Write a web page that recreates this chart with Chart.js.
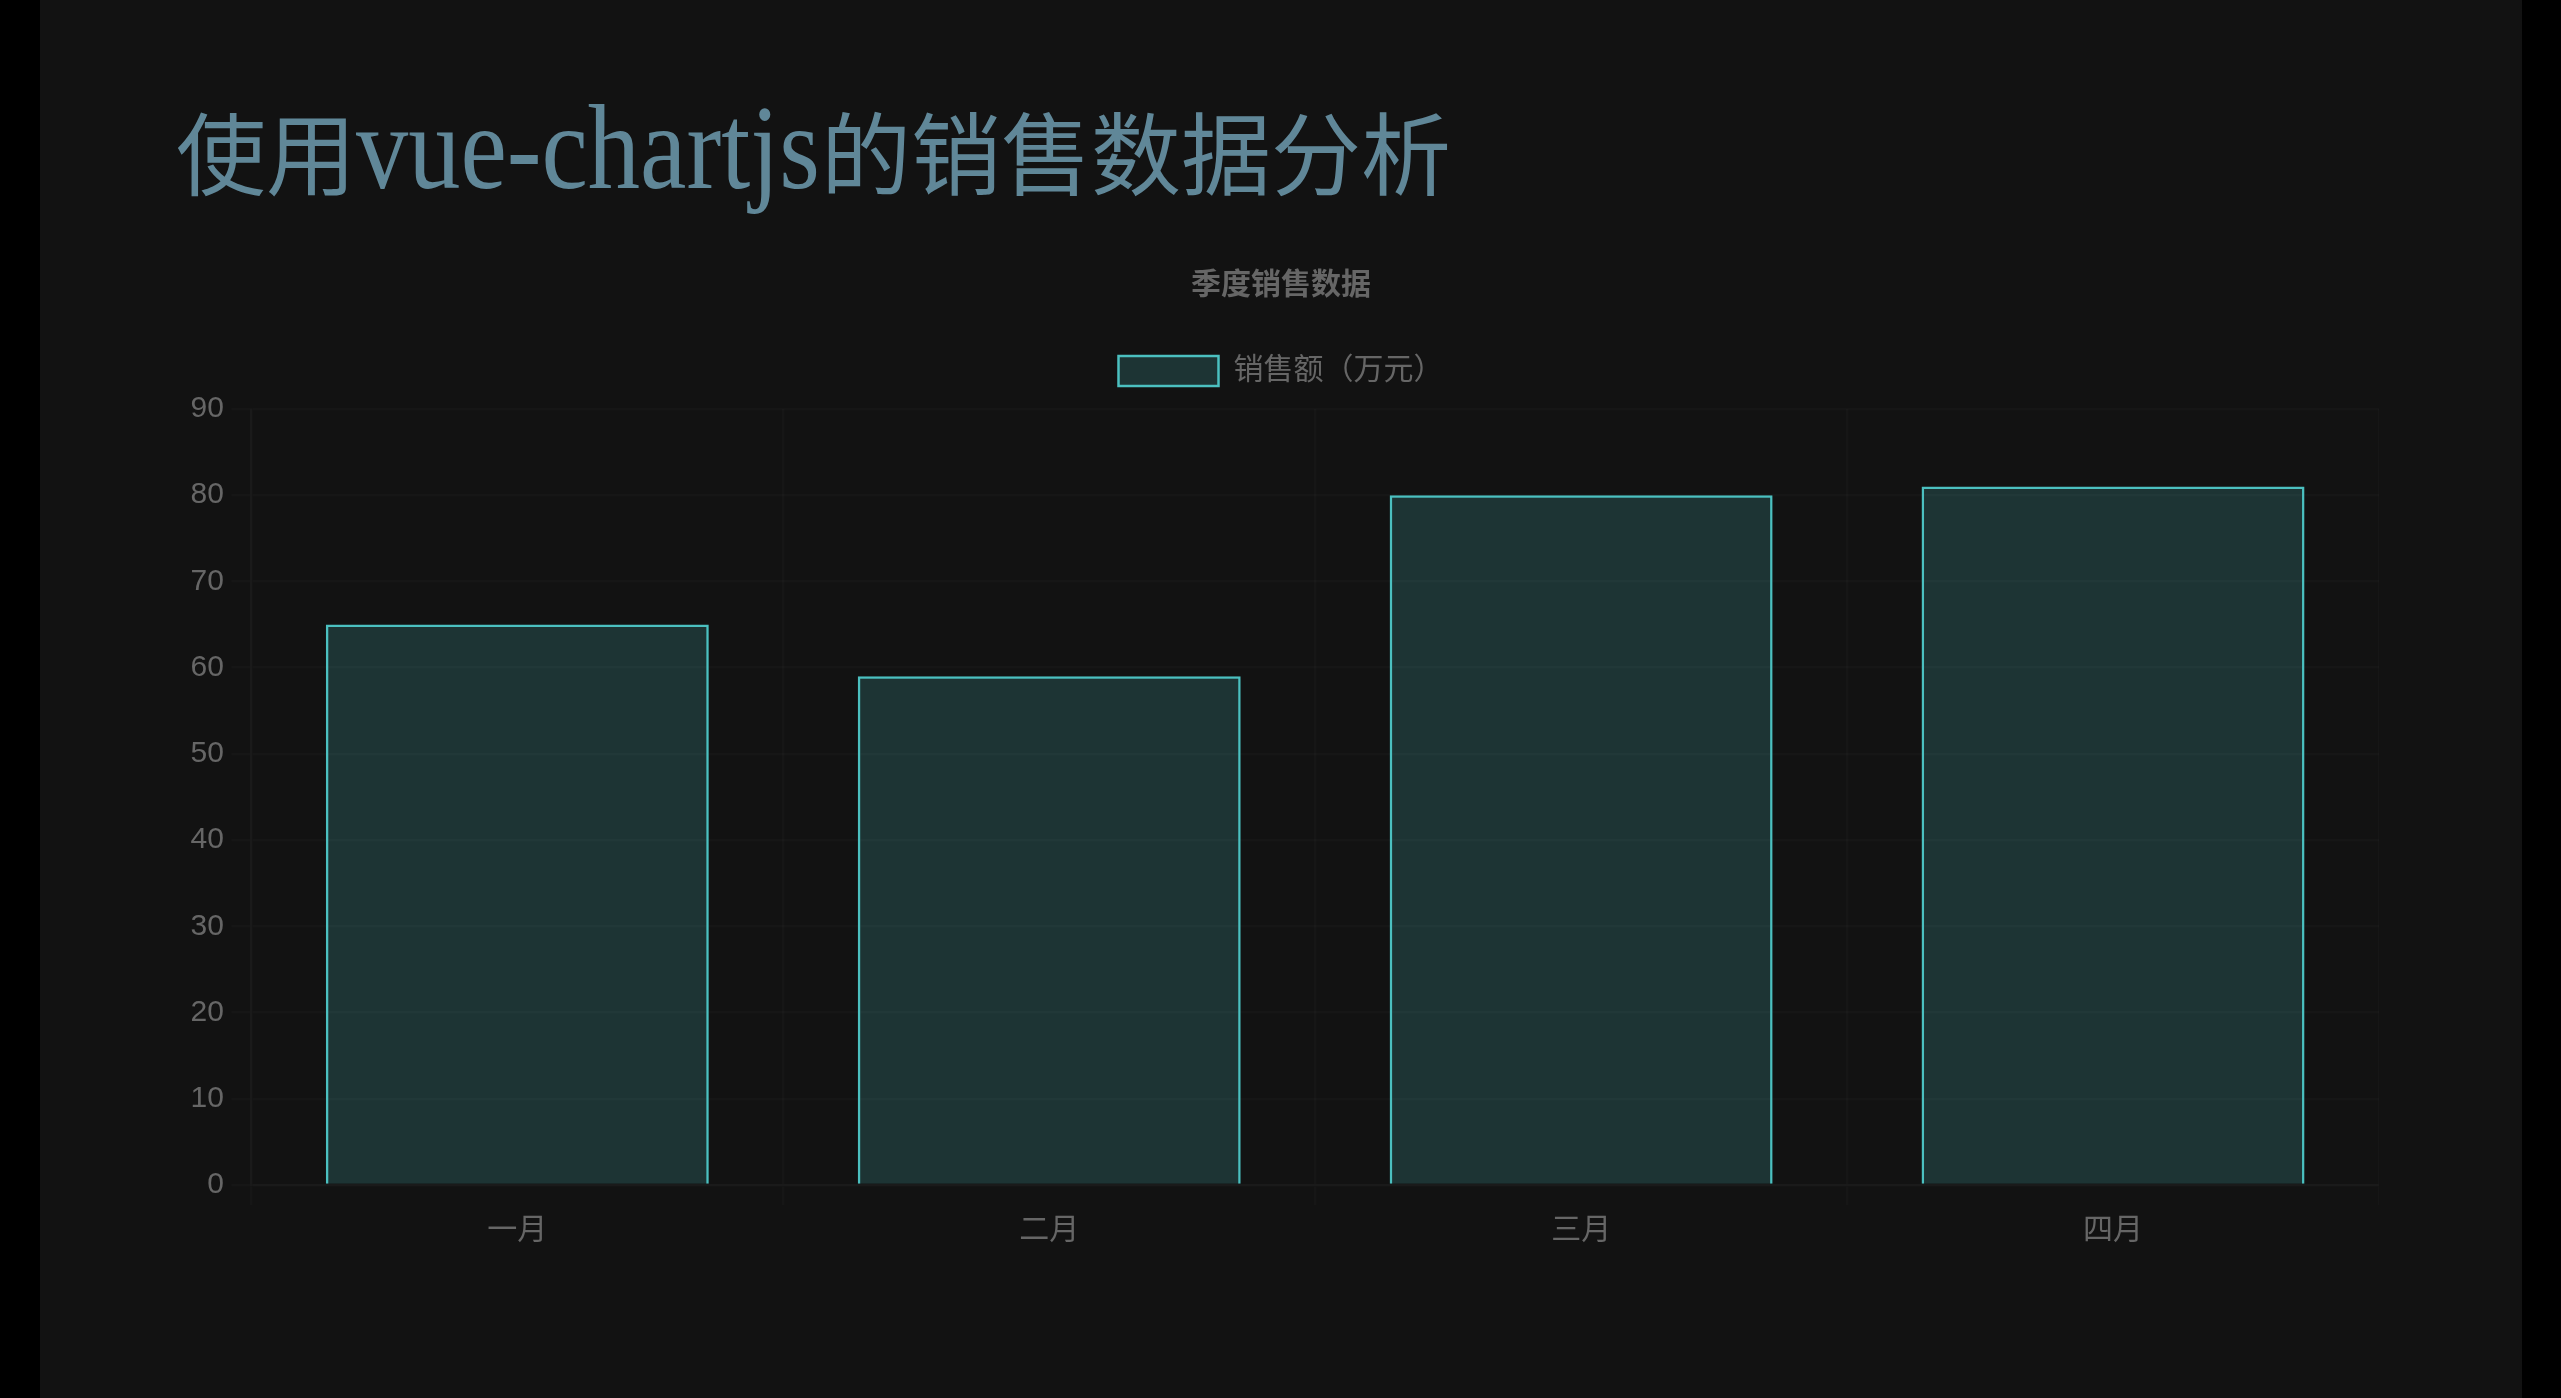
<!DOCTYPE html>
<html lang="zh-CN">
<head>
<meta charset="UTF-8">
<title>使用vue-chartjs的销售数据分析</title>
<script src="https://cdn.jsdelivr.net/npm/chart.js@4.4.1/dist/chart.umd.min.js"></script>
<style>
  html, body {
    margin: 0;
    padding: 0;
    background: #000;
  }
  .app {
    position: relative;
    margin-left: 40px;
    width: 2482px;
    height: 1398px;
    background: #121212;
    overflow: hidden;
  }
  h1 {
    margin: 0;
    padding: 88px 0 0 136px;
    font-family: 'Liberation Serif', 'Noto Sans CJK SC', serif;
    font-weight: normal;
    font-size: 90px;
    line-height: 120px;
    color: #608798;
    white-space: nowrap;
  }
  h1 .latin {
    display: inline-block;
    width: 465px;
    font-size: 120px;
    line-height: 1;
    transform-origin: left center;
    transform: scaleX(0.87);
  }
  .chart-box {
    position: absolute;
    left: 143px;
    top: 243px;
    width: 2196px;
    height: 1013px;
  }
</style>
</head>
<body>
<div class="app">
  <h1>使用<span class="latin">vue-chartjs</span>的销售数据分析</h1>
  <div class="chart-box">
    <canvas id="salesChart"></canvas>
  </div>
</div>
<script>
const months = ['一月', '二月', '三月', '四月'];
const sales = [65, 59, 80, 81];
const yTicks = [0, 10, 20, 30, 40, 50, 60, 70, 80, 90];
const chartTitle = '季度销售数据';
const seriesLabel = '销售额（万元）';

const gridColor = 'rgba(255, 255, 255, 0.018)';

Chart.defaults.font.family = "'Helvetica Neue', Helvetica, Arial, 'Noto Sans CJK SC', sans-serif";
Chart.defaults.font.size = 30;
Chart.defaults.color = '#666';

// 图例下方多留一点空白
const legendSpacing = {
  id: 'legendSpacing',
  beforeInit(chart) {
    const fit = chart.legend.fit;
    chart.legend.fit = function () {
      fit.bind(chart.legend)();
      this.height += 13;
    };
  }
};

document.addEventListener('DOMContentLoaded', () => {
  const ctx = document.getElementById('salesChart').getContext('2d');

  new Chart(ctx, {
    type: 'bar',
    data: {
      labels: months,
      datasets: [{
        label: seriesLabel,
        data: sales,
        backgroundColor: 'rgba(75, 192, 192, 0.2)',
        borderColor: 'rgba(75, 192, 192, 1)',
        borderWidth: 2.5
      }]
    },
    options: {
      responsive: true,
      maintainAspectRatio: false,
      animation: false,
      plugins: {
        title: {
          display: true,
          text: chartTitle,
          color: '#666',
          font: { size: 30, weight: 'bold' },
          padding: { top: 25, bottom: 25 }
        },
        legend: {
          labels: {
            boxWidth: 100,
            padding: 27,
            color: '#666'
          }
        },
        tooltip: { enabled: false }
      },
      scales: {
        x: {
          grid: { color: gridColor, lineWidth: 2.5, tickLength: 20 },
          border: { color: gridColor, width: 2.5 },
          ticks: { padding: 7.5 }
        },
        y: {
          beginAtZero: true,
          min: yTicks[0],
          max: yTicks[yTicks.length - 1],
          grid: { color: gridColor, lineWidth: 2.5, tickLength: 20 },
          border: { color: gridColor, width: 2.5 },
          ticks: {
            stepSize: yTicks[1] - yTicks[0],
            padding: 7.5
          }
        }
      }
    },
    plugins: [legendSpacing]
  });
});
</script>
</body>
</html>
